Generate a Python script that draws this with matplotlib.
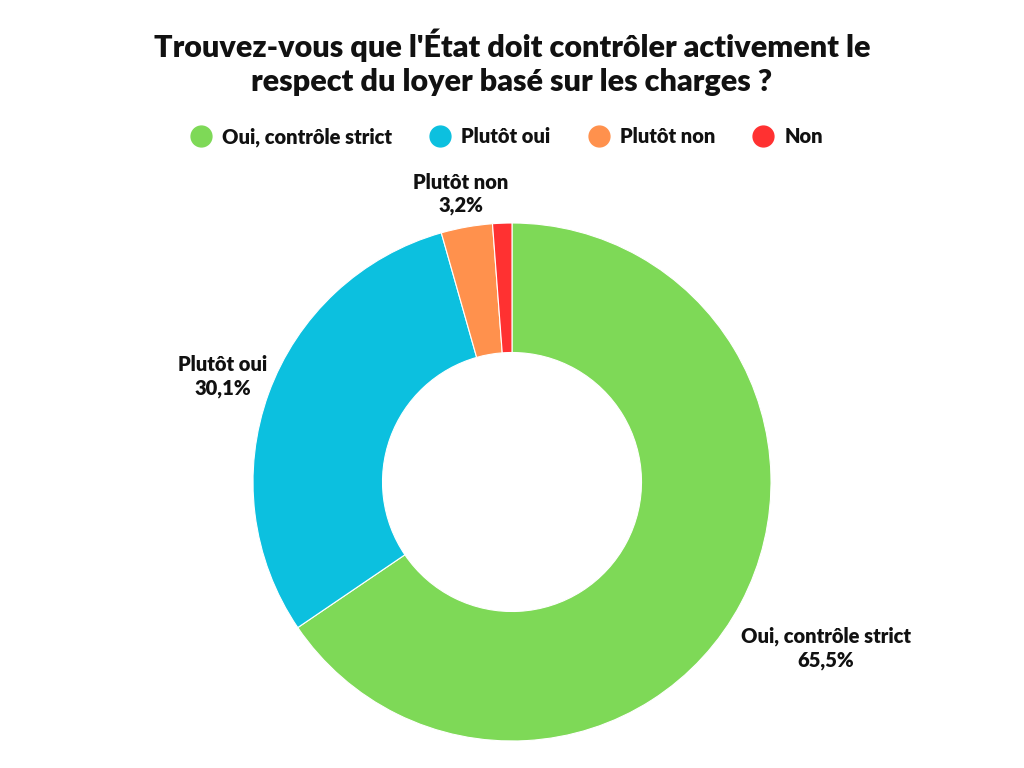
import matplotlib.pyplot as plt
import numpy as np
from matplotlib.lines import Line2D

# ------------------------------------------------------------
# Data
# ------------------------------------------------------------
categories = ["Oui, contrôle strict", "Plutôt oui", "Plutôt non", "Non"]
values = [65.5, 30.1, 3.2, 1.2]
show_label = [True, True, True, False]
colors = ["#7ED957", "#0CC0DF", "#FF914D", "#FF3131"]
title = "Trouvez-vous que l'État doit contrôler activement le\nrespect du loyer basé sur les charges ?"

plt.rcParams["font.family"] = ["Lato", "DejaVu Sans"]

fig = plt.figure(figsize=(10.24, 7.68), dpi=100)
fig.patch.set_facecolor("white")

# pie centre at (512, 482) px, radius ~259 px
R = 259
span = 1.5
side = 2 * R * span
ax = fig.add_axes([(512 - side / 2) / 1024, (286 - side / 2) / 768,
                   side / 1024, side / 768])
ax.axis("off")

wedges, _ = ax.pie(values, colors=colors, startangle=90, counterclock=False,
                   radius=1.0, wedgeprops=dict(width=0.5, edgecolor="white", linewidth=0.8),
                   frame=False)
ax.set_xlim(-span, span)
ax.set_ylim(-span, span)
ax.set_aspect("auto")

# label distances per slice (relative to outer radius)
dists = [1.37, 1.19, 1.13, 1.13]
for w, cat, v, show, d in zip(wedges, categories, values, show_label, dists):
    if not show:
        continue
    ang = np.deg2rad((w.theta1 + w.theta2) / 2)
    x, y = d * np.cos(ang), d * np.sin(ang)
    ax.text(x, y, f"{cat}\n{v:.1f}%".replace(".", ","), ha="center", va="center",
            fontsize=14.5, fontweight="heavy", color="#111111", linespacing=1.25)

fig.text(0.5, 1 - 62 / 768, title, ha="center", va="center", fontsize=22,
         fontweight="heavy", color="#111111", linespacing=1.25)

handles = [Line2D([], [], marker="o", linestyle="", markersize=15,
                  markerfacecolor=c, markeredgecolor=c) for c in colors]
leg = fig.legend(handles, categories, loc="center", bbox_to_anchor=(0.494, 1 - 137 / 768),
                 ncol=4, frameon=False, handlelength=1.2, handletextpad=0.45,
                 columnspacing=1.8, prop=dict(size=14.5, weight="heavy"))
for t in leg.get_texts():
    t.set_color("#111111")

fig.savefig("out.png", dpi=100, facecolor="white")
